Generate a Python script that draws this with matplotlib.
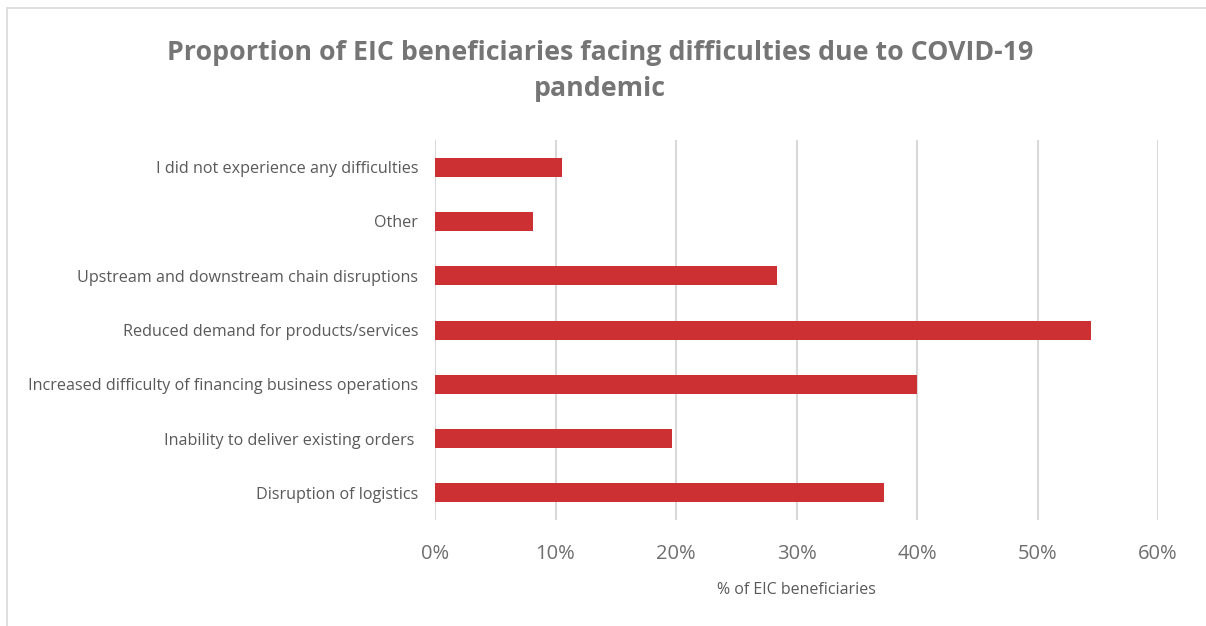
import matplotlib.pyplot as plt
from matplotlib.patches import Rectangle

categories = [
    "Disruption of logistics",
    "Inability to deliver existing orders ",
    "Increased difficulty of financing business operations",
    "Reduced demand for products/services",
    "Upstream and downstream chain disruptions",
    "Other",
    "I did not experience any difficulties",
]
values = [37.3, 19.7, 40.0, 54.4, 28.4, 8.1, 10.5]
xticks = [0, 10, 20, 30, 40, 50, 60]
xticklabels = ["0%", "10%", "20%", "30%", "40%", "50%", "60%"]

plt.rcParams['font.family'] = ['Open Sans', 'DejaVu Sans']

fig = plt.figure(figsize=(12.06, 6.26), dpi=100)
ax = fig.add_axes([435 / 1206, 1 - 520 / 626, (1158 - 435) / 1206, 380 / 626])

ax.barh(range(len(categories)), values, height=0.35, color='#CC3033', zorder=3)
ax.set_xlim(0, 60)
ax.set_ylim(-0.5, len(categories) - 0.5)
ax.set_yticks(range(len(categories)))
ax.set_yticklabels(categories, fontsize=11.6, color='#595959')
ax.set_xticks(xticks)
ax.set_xticklabels(xticklabels, fontsize=14.5, color='#6E6E6E')
ax.tick_params(axis='both', length=0)
ax.tick_params(axis='x', pad=17)
ax.tick_params(axis='y', pad=12)
ax.grid(axis='x', color='#D9D9D9', linewidth=1.5, zorder=0)
for s in ax.spines.values():
    s.set_visible(False)

ax.set_xlabel("% of EIC beneficiaries", fontsize=11.5, color='#595959', labelpad=13)

fig.text(600 / 1206, 1 - 71 / 626,
         "Proportion of EIC beneficiaries facing difficulties due to COVID-19\npandemic",
         ha='center', va='center', fontsize=19.3, fontweight='bold', color='#757575',
         linespacing=1.5)

fig.patches.append(Rectangle((7 / 1206, -0.05), 1.2, 1 - 8 / 626 + 0.05,
                             transform=fig.transFigure, fill=False,
                             edgecolor='#D9D9D9', linewidth=1.2))

fig.savefig("out.png", dpi=100)
